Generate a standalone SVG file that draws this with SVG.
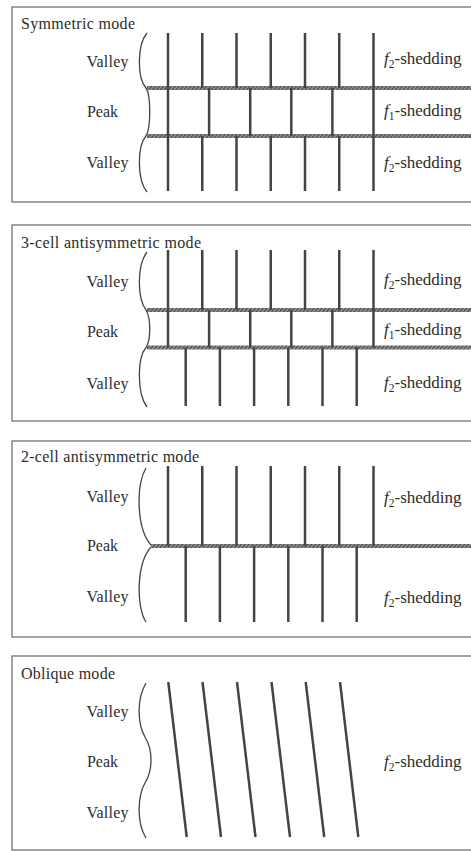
<svg xmlns="http://www.w3.org/2000/svg" width="471" height="851" viewBox="0 0 471 851">
<defs>
<pattern id="hatch" width="3" height="3" patternUnits="userSpaceOnUse" patternTransform="rotate(40)">
<rect width="3" height="3" fill="#9a9a9a"/>
<rect width="1.4" height="3" fill="#4a4a4a"/>
</pattern>
</defs>
<style>
.frame{fill:none;stroke:#666;stroke-width:1.2}
.brace{fill:none;stroke:#444;stroke-width:1.3}
.v{stroke:#444;stroke-width:2.5;fill:none}
.band{fill:url(#hatch)}
.t{font-family:"Liberation Serif","Times New Roman",serif;fill:#2c2c2c}
.title{font-size:16px}
.lab{font-size:16px}
.sh{font-size:17px}
.f{font-style:italic}
.sub{font-size:11.5px}
</style>

<g id="panel-symmetric">
<rect class="frame" x="12" y="7" width="480" height="195"/>
<text class="t title" x="21" y="28.5" textLength="114">Symmetric mode</text>
<text class="t lab" x="86.5" y="67" textLength="42">Valley</text>
<text class="t lab" x="87" y="117" textLength="31">Peak</text>
<text class="t lab" x="86.5" y="168" textLength="42">Valley</text>
<path class="brace" d="M147,33 C137,45 137,78 146,88 C151,95 151,128 146,136 C137,146 137,180 147,192"/>
<rect class="band" x="147" y="86" width="330" height="4"/>
<rect class="band" x="147" y="134" width="330" height="4"/>
<g class="v">
<line x1="168" y1="33" x2="168" y2="191"/>
<line x1="373.5" y1="33" x2="373.5" y2="191"/>
<line x1="202.25" y1="33" x2="202.25" y2="88"/>
<line x1="236.5" y1="33" x2="236.5" y2="88"/>
<line x1="270.75" y1="33" x2="270.75" y2="88"/>
<line x1="305" y1="33" x2="305" y2="88"/>
<line x1="339.25" y1="33" x2="339.25" y2="88"/>
<line x1="209.1" y1="88" x2="209.1" y2="136"/>
<line x1="250.2" y1="88" x2="250.2" y2="136"/>
<line x1="291.3" y1="88" x2="291.3" y2="136"/>
<line x1="332.4" y1="88" x2="332.4" y2="136"/>
<line x1="202.25" y1="136" x2="202.25" y2="191"/>
<line x1="236.5" y1="136" x2="236.5" y2="191"/>
<line x1="270.75" y1="136" x2="270.75" y2="191"/>
<line x1="305" y1="136" x2="305" y2="191"/>
<line x1="339.25" y1="136" x2="339.25" y2="191"/>
</g>
<text class="t sh" x="384" y="64"><tspan class="f">f</tspan><tspan class="sub" dy="4">2</tspan><tspan dy="-4">-shedding</tspan></text>
<text class="t sh" x="384" y="116"><tspan class="f">f</tspan><tspan class="sub" dy="4">1</tspan><tspan dy="-4">-shedding</tspan></text>
<text class="t sh" x="384" y="168"><tspan class="f">f</tspan><tspan class="sub" dy="4">2</tspan><tspan dy="-4">-shedding</tspan></text>
</g>

<g id="panel-3cell">
<rect class="frame" x="12" y="225" width="480" height="196"/>
<text class="t title" x="21" y="248" textLength="180">3-cell antisymmetric mode</text>
<text class="t lab" x="86.5" y="287" textLength="42">Valley</text>
<text class="t lab" x="87" y="337" textLength="31">Peak</text>
<text class="t lab" x="86.5" y="389" textLength="42">Valley</text>
<path class="brace" d="M147,252 C137,265 137,298 146,310 C151,318 151,340 146,347.5 C137,358 137,394 147,407"/>
<rect class="band" x="147" y="308" width="330" height="4"/>
<rect class="band" x="147" y="345.5" width="330" height="4"/>
<g class="v">
<line x1="168" y1="250" x2="168" y2="347.5"/>
<line x1="373.5" y1="250" x2="373.5" y2="347.5"/>
<line x1="202.25" y1="250" x2="202.25" y2="310"/>
<line x1="236.5" y1="250" x2="236.5" y2="310"/>
<line x1="270.75" y1="250" x2="270.75" y2="310"/>
<line x1="305" y1="250" x2="305" y2="310"/>
<line x1="339.25" y1="250" x2="339.25" y2="310"/>
<line x1="209.1" y1="310" x2="209.1" y2="347.5"/>
<line x1="250.2" y1="310" x2="250.2" y2="347.5"/>
<line x1="291.3" y1="310" x2="291.3" y2="347.5"/>
<line x1="332.4" y1="310" x2="332.4" y2="347.5"/>
<line x1="185.7" y1="347.5" x2="185.7" y2="406"/>
<line x1="219.9" y1="347.5" x2="219.9" y2="406"/>
<line x1="254.1" y1="347.5" x2="254.1" y2="406"/>
<line x1="288.3" y1="347.5" x2="288.3" y2="406"/>
<line x1="322.5" y1="347.5" x2="322.5" y2="406"/>
<line x1="356.7" y1="347.5" x2="356.7" y2="406"/>
</g>
<text class="t sh" x="384" y="285"><tspan class="f">f</tspan><tspan class="sub" dy="4">2</tspan><tspan dy="-4">-shedding</tspan></text>
<text class="t sh" x="384" y="335"><tspan class="f">f</tspan><tspan class="sub" dy="4">1</tspan><tspan dy="-4">-shedding</tspan></text>
<text class="t sh" x="384" y="388"><tspan class="f">f</tspan><tspan class="sub" dy="4">2</tspan><tspan dy="-4">-shedding</tspan></text>
</g>

<g id="panel-2cell">
<rect class="frame" x="12" y="441" width="480" height="196"/>
<text class="t title" x="21" y="462" textLength="178">2-cell antisymmetric mode</text>
<text class="t lab" x="86.5" y="502" textLength="42">Valley</text>
<text class="t lab" x="87" y="551" textLength="31">Peak</text>
<text class="t lab" x="86.5" y="602" textLength="42">Valley</text>
<path class="brace" d="M146,468 C136,485 136,530 152,546 C136,562 136,607 146,622"/>
<rect class="band" x="151" y="544" width="330" height="4"/>
<g class="v">
<line x1="168" y1="466" x2="168" y2="546"/>
<line x1="202.25" y1="466" x2="202.25" y2="546"/>
<line x1="236.5" y1="466" x2="236.5" y2="546"/>
<line x1="270.75" y1="466" x2="270.75" y2="546"/>
<line x1="305" y1="466" x2="305" y2="546"/>
<line x1="339.25" y1="466" x2="339.25" y2="546"/>
<line x1="373.5" y1="466" x2="373.5" y2="546"/>
<line x1="185.7" y1="546" x2="185.7" y2="622"/>
<line x1="219.9" y1="546" x2="219.9" y2="622"/>
<line x1="254.1" y1="546" x2="254.1" y2="622"/>
<line x1="288.3" y1="546" x2="288.3" y2="622"/>
<line x1="322.5" y1="546" x2="322.5" y2="622"/>
<line x1="356.7" y1="546" x2="356.7" y2="622"/>
</g>
<text class="t sh" x="384" y="503"><tspan class="f">f</tspan><tspan class="sub" dy="4">2</tspan><tspan dy="-4">-shedding</tspan></text>
<text class="t sh" x="384" y="603"><tspan class="f">f</tspan><tspan class="sub" dy="4">2</tspan><tspan dy="-4">-shedding</tspan></text>
</g>

<g id="panel-oblique">
<rect class="frame" x="12" y="656" width="480" height="194"/>
<text class="t title" x="21" y="679" textLength="94">Oblique mode</text>
<text class="t lab" x="86.5" y="717" textLength="42">Valley</text>
<text class="t lab" x="87" y="767" textLength="31">Peak</text>
<text class="t lab" x="86.5" y="818" textLength="42">Valley</text>
<path class="brace" d="M146,683 C136,700 138,725 145,737 C153,750 153,770 145,783 C138,795 136,822 146,838"/>
<g class="v">
<line x1="168.3" y1="682" x2="186.7" y2="837"/>
<line x1="202.5" y1="682" x2="221" y2="837"/>
<line x1="237" y1="682" x2="255.5" y2="837"/>
<line x1="271.5" y1="682" x2="290" y2="837"/>
<line x1="305.7" y1="682" x2="324.2" y2="837"/>
<line x1="340" y1="682" x2="358.3" y2="837"/>
</g>
<text class="t sh" x="384" y="767"><tspan class="f">f</tspan><tspan class="sub" dy="4">2</tspan><tspan dy="-4">-shedding</tspan></text>
</g>
</svg>
